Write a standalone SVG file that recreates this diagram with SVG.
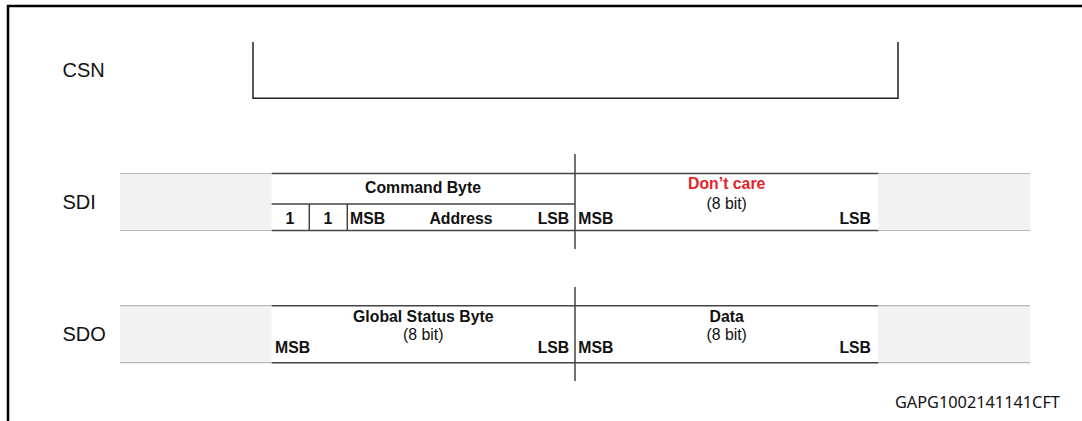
<svg xmlns="http://www.w3.org/2000/svg" width="1082" height="421" viewBox="0 0 1082 421">
<style>
.lbl{font-family:"Liberation Sans",Arial,sans-serif;font-size:20px;fill:#111}
.b{font-family:"Liberation Sans",Arial,sans-serif;font-size:15.8px;font-weight:bold;fill:#111}
.r{font-family:"Liberation Sans",Arial,sans-serif;font-size:15.8px;fill:#111}
.red{fill:#e3242b}
.mid{text-anchor:middle}
.end{text-anchor:end}
.gray{fill:#f2f2f2;stroke:none}
.gline{stroke:#b8b8b8;stroke-width:1.2;fill:none}
.dline{stroke:#444;stroke-width:1.5;fill:none}
.wave{stroke:#222;stroke-width:1.5;fill:none}
.div{stroke:#444;stroke-width:1.5;fill:none}
.frame{stroke:#000;stroke-width:2.5;fill:none}
.id{font-family:"Noto Sans","Open Sans",sans-serif;font-size:16.3px;fill:#111}
</style>
<rect x="0" y="0" width="1082" height="421" fill="#fff"/>
<path class="frame" d="M8,421 V6 H1082"/>
<g id="csn">
<text class="lbl" x="62.5" y="77.3">CSN</text>
<path class="wave" d="M253,42 V98.3 H898 V42"/>
</g>
<g id="sdi">
<text class="lbl" x="62.5" y="209">SDI</text>
<rect class="gray" x="120" y="173.5" width="151.7" height="57"/>
<rect class="gray" x="878.3" y="173.5" width="151.7" height="57"/>
<path class="gline" d="M120,173.5 H271.7 M120,230.5 H271.7 M878.3,173.5 H1030 M878.3,230.5 H1030"/>
<path class="dline" d="M271.7,173.5 H878.3 M271.7,230.5 H878.3 M271.7,204 H575 M309.3,204 V230.5 M347.3,204 V230.5"/>
<text class="b mid" x="423" y="192.7">Command Byte</text>
<text class="b mid" x="290" y="224">1</text>
<text class="b mid" x="328" y="224">1</text>
<text class="b" x="350" y="224">MSB</text>
<text class="b mid" x="461" y="224">Address</text>
<text class="b end" x="569.3" y="224">LSB</text>
<text class="b red mid" x="726.7" y="189">Don’t care</text>
<text class="r mid" x="726.7" y="209.3">(8 bit)</text>
<text class="b" x="578.3" y="224">MSB</text>
<text class="b end" x="871" y="224">LSB</text>
</g>
<g id="sdo">
<text class="lbl" x="62.5" y="340.7">SDO</text>
<rect class="gray" x="120" y="305.7" width="151.7" height="57"/>
<rect class="gray" x="878.3" y="305.7" width="151.7" height="57"/>
<path class="gline" d="M120,305.7 H271.7 M120,362.7 H271.7 M878.3,305.7 H1030 M878.3,362.7 H1030"/>
<path class="dline" d="M271.7,305.7 H878.3 M271.7,362.7 H878.3"/>
<text class="b mid" x="423.3" y="321.7">Global Status Byte</text>
<text class="r mid" x="423.3" y="340">(8 bit)</text>
<text class="b" x="275" y="352.7">MSB</text>
<text class="b end" x="569.3" y="352.7">LSB</text>
<text class="b mid" x="726.7" y="321.7">Data</text>
<text class="r mid" x="726.7" y="340">(8 bit)</text>
<text class="b" x="578.3" y="352.7">MSB</text>
<text class="b end" x="871" y="352.7">LSB</text>
</g>
<g id="connectors">
<path class="div" d="M575,154 V249 M575,287 V381"/>
</g>
<text class="id" x="895" y="408.3">GAPG1002141141CFT</text>
</svg>
